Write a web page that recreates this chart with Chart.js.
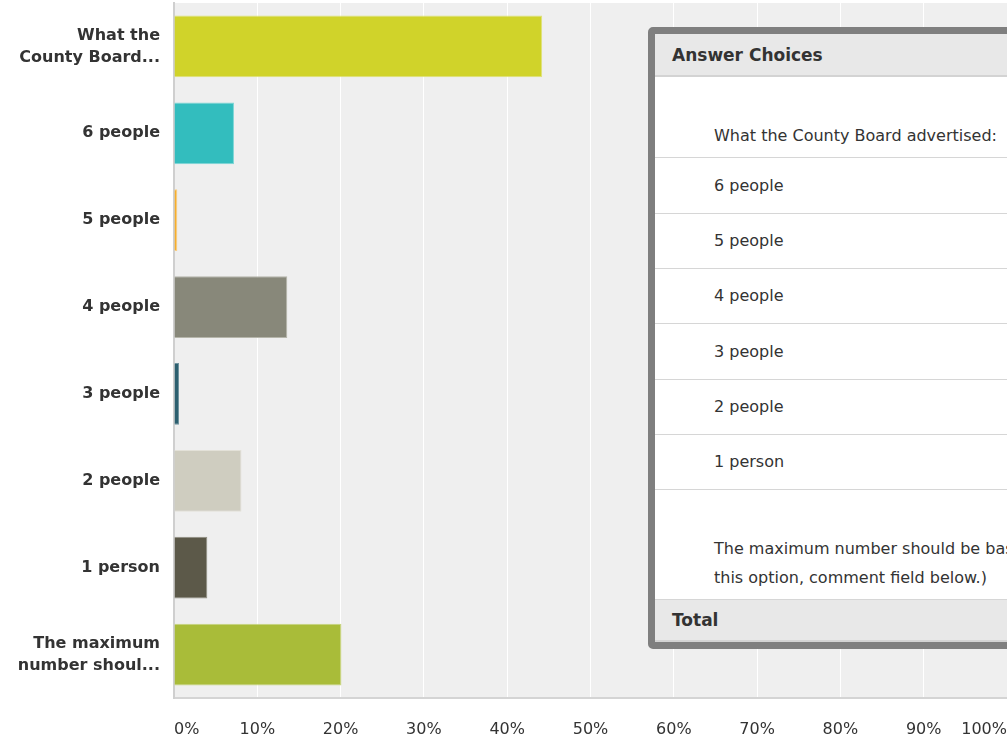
<!DOCTYPE html>
<html>
<head>
<meta charset="utf-8">
<script src="https://cdn.jsdelivr.net/npm/chart.js@4"></script>
<style>
  body { margin: 0; background: #fff; font-family: "DejaVu Sans", sans-serif; }
  #wrap { position: relative; width: 1007px; height: 738px; overflow: hidden; }
  #myChart { position: absolute; left: 0; top: 0; }
  #tabla {
    position: absolute; left: 648px; top: 27px; width: 420px; height: 608px;
    border: 7px solid #7f7f7f; border-radius: 5px; background: #fff;
    color: #333; font-size: 16px;
  }
  #tabla .fila { border-bottom: 1px solid #d6d6d6; padding-left: 59px; box-sizing: border-box; white-space: nowrap; overflow: hidden; }
  #tabla .cab { background: #e8e8e8; font-weight: bold; font-size: 17px; padding-left: 17px; border-bottom: 2px solid #d3d3d3; }
</style>
</head>
<body>
<div id="wrap">
  <canvas id="myChart" width="1007" height="738"></canvas>
  <div id="tabla"></div>
</div>
<script>
let categorias = [
  ['What the', 'County Board...'],
  '6 people',
  '5 people',
  '4 people',
  '3 people',
  '2 people',
  '1 person',
  ['The maximum', 'number shoul...']
];
let porcentajes = [44.2, 7.2, 0.4, 13.6, 0.6, 8.1, 4.0, 20.1];
let colores = ['#d0d32a', '#33bdbe', '#f6ae2d', '#88887a', '#2c5f6f', '#cfcdc0', '#5c5949', '#a9bc39'];
let bordes = ['#dfe27a', '#7fd6d6', '#f9cf85', '#b5b5aa', '#6f939e', '#e3e1d8', '#908e83', '#c8d57f'];

// filas de la tabla: texto, alto, tipo
let filasTabla = [
  ['Answer Choices', 43, 'cab'],
  ['What the County Board advertised:', 81, 'larga'],
  ['6 people', 56, ''],
  ['5 people', 55, ''],
  ['4 people', 55, ''],
  ['3 people', 56, ''],
  ['2 people', 55, ''],
  ['1 person', 55, ''],
  ['The maximum number should be based on (if you select<br>this option, comment field below.)', 110, 'larga'],
  ['Total', 42, 'cab']
];

let fondoPlot = {
  id: 'fondoPlot',
  beforeDraw: function (chart) {
    let a = chart.chartArea;
    let ctx = chart.ctx;
    ctx.save();
    ctx.fillStyle = '#efefef';
    ctx.fillRect(a.left, a.top, a.right - a.left, a.bottom - a.top);
    ctx.restore();
  }
};

ctx = document.getElementById('myChart').getContext('2d');

var chart = new Chart(ctx, {
  type: 'bar',
  data: {
    labels: categorias,
    datasets: [{
      data: porcentajes,
      backgroundColor: colores,
      borderColor: bordes,
      borderWidth: 1,
      categoryPercentage: 1,
      barPercentage: 0.71
    }]
  },
  plugins: [fondoPlot],
  options: {
    indexAxis: 'y',
    responsive: false,
    animation: false,
    layout: { padding: { top: 3, right: 0, left: 0, bottom: 0 } },
    plugins: { legend: { display: false }, tooltip: { enabled: false } },
    scales: {
      x: {
        min: 0,
        max: 100,
        ticks: {
          stepSize: 10,
          align: 'inner',
          padding: 22,
          color: '#333',
          font: { family: '"DejaVu Sans"', size: 16 },
          callback: function (v) { return v + '%'; }
        },
        grid: { color: '#ffffff', lineWidth: 1, drawTicks: false },
        border: { color: '#d4d4d4', width: 2 },
        afterFit: function (scale) {
          scale.height = 40;
          scale.paddingLeft = 0;
          scale.paddingRight = 0;
        }
      },
      y: {
        ticks: {
          padding: 14,
          color: '#333',
          font: { family: '"DejaVu Sans"', size: 16, weight: 'bold', lineHeight: 1.375 }
        },
        grid: { display: false, drawTicks: false },
        border: { color: '#cfcfcf', width: 2 },
        afterFit: function (scale) {
          scale.width = 174;
          scale.paddingTop = 0;
          scale.paddingBottom = 0;
        }
      }
    }
  }
});

let tabla = document.getElementById('tabla');
filasTabla.forEach(function (f) {
  let d = document.createElement('div');
  d.className = 'fila' + (f[2] === 'cab' ? ' cab' : '');
  d.style.height = f[1] + 'px';
  if (f[2] === 'larga') {
    d.style.paddingTop = '44px';
    d.style.lineHeight = '29px';
  } else {
    d.style.lineHeight = (f[1] - 1) + 'px';
  }
  d.innerHTML = f[0];
  tabla.appendChild(d);
});
</script>
</body>
</html>
